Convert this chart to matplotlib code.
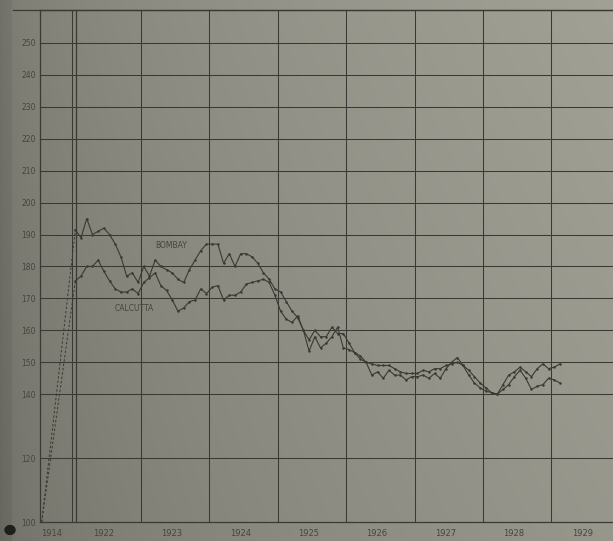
import numpy as np
import matplotlib.pyplot as plt
from matplotlib.lines import Line2D
from matplotlib.patches import Circle

# cost of living index numbers (1914 = 100), monthly Jan 1922 .. Feb 1929
base_1914 = 100
bombay = [191.5, 189, 195, 190, 191, 192, 190, 187, 183, 177, 178, 175,
          180, 177, 182, 180, 179, 178, 176, 175, 179, 182, 185, 187,
          187, 187, 181, 184, 180, 184, 184, 183, 181, 178, 176, 173,
          172, 169, 166, 164, 160, 157, 160, 158, 158, 161, 159, 159,
          156, 153, 151, 150, 149.5, 149, 149, 149, 148, 147, 146.5, 146.5,
          146.5, 147.5, 147, 148, 148, 149, 149.5, 150, 149, 147.5, 145.5, 143.5,
          142, 140.5, 140, 141.5, 143, 145.5, 147.5, 145, 141.5, 142.5, 143, 145,
          144.5, 143.5]
calcutta = [175.5, 177, 180, 180, 182, 178.5, 175.5, 173, 172, 172, 173, 171.5,
            175, 176.5, 178, 174, 172.5, 169.5, 166, 167, 169, 169.5, 173, 171.5,
            173.5, 174, 169.5, 171, 171, 172, 174.5, 175, 175.5, 176, 175, 171,
            166, 163.5, 162.5, 164.5, 160, 153.5, 158, 154.5, 156, 158, 161, 154.5,
            154, 153, 152, 150, 146, 147, 145, 147.5, 146, 146, 144.5, 145.5,
            145.5, 146, 145, 146.5, 145, 148, 150, 151.5, 149, 146, 143.5, 142,
            141, 140.5, 140, 143, 146, 147, 148.5, 147, 145.5, 148, 149.5, 148,
            148.5, 149.5]
years = ['1914', '1922', '1923', '1924', '1925', '1926', '1927', '1928', '1929']
ytick_vals = [100, 120, 140, 150, 160, 170, 180, 190, 200, 210, 220, 230, 240, 250]

W, H = 613, 541
ink = '#3a3a34'
txt = '#45453e'

fig = plt.figure(figsize=(W / 100, H / 100), dpi=100)

## paper background (scanned page look)
xx = np.linspace(0, 1, W)[None, :]
yy = np.linspace(0, 1, H)[:, None]
shade = 0.47 + 0.16 * np.sqrt(xx) - 0.04 * yy
shade[:, :12] -= 0.03
rgb = np.dstack([shade, shade, shade * 0.93])
bg = fig.add_axes([0, 0, 1, 1], zorder=-1)
bg.imshow(rgb, aspect='auto', interpolation='bilinear')
bg.axis('off')

x_left, x_right = -5.7, 94.8
ax = fig.add_axes([40 / W, 19 / H, 1 - 40 / W, 1 - 29 / H], zorder=1)
ax.set_facecolor('none')
ax.set_xlim(x_left, x_right)
ax.set_ylim(100, 260.3)

## grid
grid_vals = [v for v in ytick_vals if v > 100]
for v in grid_vals:
    ax.axhline(v, color=ink, lw=0.75, zorder=1)
year_edges = [12 * i for i in range(len(years) - 1)]
for e in year_edges:
    ax.axvline(e, color=ink, lw=0.75, zorder=1)
ax.axvline(0.7, color=ink, lw=0.9, zorder=1)

## lines
months = np.arange(len(bombay)) + 0.5
for series in (bombay, calcutta):
    ax.plot(months, series, color=ink, lw=0.8, marker='.', ms=1.6, zorder=3)
    ax.plot([x_left + 0.3, months[0]], [base_1914, series[0]],
            color=ink, lw=0.7, ls=(0, (2.5, 2)), zorder=3)

ax.text(17.3, 186.5, 'BOMBAY', fontsize=5.5, color=txt, ha='center', va='center')
ax.text(10.9, 167, 'CALCUTTA', fontsize=5.5, color=txt, ha='center', va='center')

## axes / ticks
label_pos = [x_left / 2 - 0.8] + [e + 5.4 for e in year_edges]
ax.set_xticks(label_pos)
ax.set_xticklabels(years, fontsize=6, color=txt)
ax.set_yticks(ytick_vals)
ax.set_yticklabels([str(v) for v in ytick_vals], fontsize=5.5, color=txt)
ax.tick_params(length=0)
ax.tick_params(axis='x', pad=5)
ax.tick_params(axis='y', pad=3)
for side in ['left', 'bottom', 'top']:
    ax.spines[side].set_color(ink)
    ax.spines[side].set_linewidth(0.9)
ax.spines['right'].set_visible(False)

## outer frame of the page
fig.add_artist(Line2D([13 / W, 1], [1 - 10 / H] * 2, transform=fig.transFigure, color=ink, lw=0.9))
fig.add_artist(Circle((10 / W, 11 / H), 5 / W, transform=fig.transFigure, color='#1e1e1b', zorder=5))

plt.savefig('out.png', dpi=100)
